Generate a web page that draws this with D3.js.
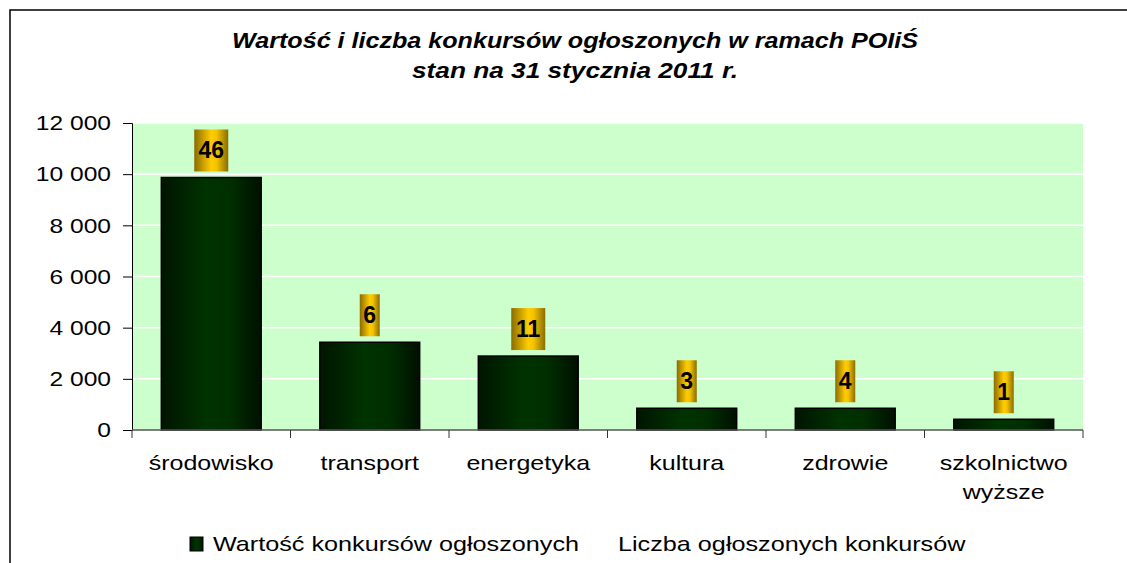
<!DOCTYPE html>
<html>
<head>
<meta charset="utf-8">
<script src="https://cdn.jsdelivr.net/npm/d3@7"></script>
<style>
  html, body { margin: 0; padding: 0; background: #fff; }
  svg { display: block; font-family: "Liberation Sans", Arial, sans-serif; }
</style>
</head>
<body>
<div id="chart"></div>
<script>
const categories = ["środowisko", "transport", "energetyka", "kultura", "zdrowie", "szkolnictwo\nwyższe"];
const values = [9870, 3430, 2890, 850, 850, 420];
const counts = [46, 6, 11, 3, 4, 1];
const yTicks = [0, 2000, 4000, 6000, 8000, 10000, 12000];
const titleLines = ["Wartość i liczba konkursów ogłoszonych w ramach POIiŚ", "stan na 31 stycznia 2011 r."];
const legendLabels = ["Wartość konkursów ogłoszonych", "Liczba ogłoszonych konkursów"];

const W = 1127, H = 563;
const margin = { top: 123, right: 44, bottom: 133, left: 132 };
const STRETCH = 1.19; // reference text looks a bit wide

const svg = d3.select("#chart").append("svg").attr("width", W).attr("height", H);

// gradients
const defs = svg.append("defs");
const barGrad = defs.append("linearGradient").attr("id", "barGrad");
barGrad.append("stop").attr("offset", "0%").attr("stop-color", "#001500");
barGrad.append("stop").attr("offset", "45%").attr("stop-color", "#003300");
barGrad.append("stop").attr("offset", "70%").attr("stop-color", "#002e00");
barGrad.append("stop").attr("offset", "100%").attr("stop-color", "#001000");
const goldGrad = defs.append("linearGradient").attr("id", "goldGrad");
goldGrad.append("stop").attr("offset", "0%").attr("stop-color", "#8a6c00");
goldGrad.append("stop").attr("offset", "50%").attr("stop-color", "#ffcc00");
goldGrad.append("stop").attr("offset", "65%").attr("stop-color", "#f5c400");
goldGrad.append("stop").attr("offset", "100%").attr("stop-color", "#8a6c00");

// frame
svg.append("path").attr("d", `M10,${H} V10 H${W}`)
  .attr("fill", "none").attr("stroke", "#000").attr("stroke-width", 1.5);

function widen(sel, k) {
  sel.each(function() {
    const len = this.getComputedTextLength();
    d3.select(this).attr("textLength", len * k).attr("lengthAdjust", "spacingAndGlyphs");
  });
}

// title
svg.selectAll(".title").data(titleLines).enter().append("text")
  .attr("class", "title")
  .attr("x", 575).attr("y", (d, i) => 48 + i * 30)
  .attr("text-anchor", "middle")
  .attr("font-size", 22).attr("font-weight", "bold").attr("font-style", "italic")
  .attr("textLength", (d, i) => i === 0 ? 686 : 326)
  .attr("lengthAdjust", "spacingAndGlyphs")
  .text(d => d);

const width = W - margin.left - margin.right;
const height = H - margin.top - margin.bottom;

const x = d3.scaleBand().domain(categories).range([0, width]).paddingInner(0.37).paddingOuter(0.185);
const xTickScale = d3.scaleLinear().domain([0, categories.length]).range([0, width]);
const y = d3.scaleLinear().domain([0, 12000]).range([height, 0]);

const g = svg.append("g").attr("transform", `translate(${margin.left},${margin.top})`);

g.append("rect").attr("width", width).attr("height", height).attr("fill", "#ccffcc");

g.selectAll(".grid").data(yTicks.slice(1)).enter().append("line")
  .attr("x1", 0).attr("x2", width)
  .attr("y1", d => y(d)).attr("y2", d => y(d))
  .attr("stroke", "#fff").attr("stroke-width", 1.5);

// y axis
const yAxis = g.append("g")
  .call(d3.axisLeft(y).tickValues(yTicks).tickSize(9).tickPadding(12)
    .tickFormat(d => d3.format(",")(d).replace(/,/g, " ")));
yAxis.select(".domain").attr("stroke", "#000");
yAxis.selectAll(".tick line").attr("stroke", "#000");
yAxis.selectAll("text").attr("font-size", 21).attr("fill", "#000")
  .attr("font-family", "Liberation Sans, Arial, sans-serif");
widen(yAxis.selectAll("text"), 1.17);

// bars
g.selectAll(".bar").data(values).enter().append("rect")
  .attr("class", "bar")
  .attr("x", (d, i) => x(categories[i]))
  .attr("y", d => y(d))
  .attr("width", x.bandwidth())
  .attr("height", d => height - y(d))
  .attr("fill", "url(#barGrad)")
  .attr("stroke", "#000").attr("stroke-width", 1.5);

// x axis
g.append("line").attr("x1", 0).attr("x2", width).attr("y1", height).attr("y2", height)
  .attr("stroke", "#555").attr("stroke-width", 1.5);
g.selectAll(".xtick").data(d3.range(categories.length + 1)).enter().append("line")
  .attr("x1", d => xTickScale(d)).attr("x2", d => xTickScale(d))
  .attr("y1", height).attr("y2", height + 8)
  .attr("stroke", "#333");

const xl = g.selectAll(".xlabel").data(categories).enter().append("text")
  .attr("class", "xlabel")
  .attr("text-anchor", "middle")
  .attr("font-size", 21).attr("fill", "#000");
xl.each(function(d) {
  const t = d3.select(this);
  const cx = x(d) + x.bandwidth() / 2;
  d.split("\n").forEach((line, j) => {
    t.append("tspan").attr("x", cx).attr("y", height + 40 + j * 29).text(line);
  });
});
xl.selectAll("tspan").each(function() {
  const len = this.getComputedTextLength();
  d3.select(this).attr("textLength", len * STRETCH).attr("lengthAdjust", "spacingAndGlyphs");
});

// count labels in gold boxes
const lab = g.selectAll(".cnt").data(counts).enter().append("g")
  .attr("transform", (d, i) => `translate(${x(categories[i]) + x.bandwidth() / 2},${y(values[i]) - 6})`);
lab.append("rect")
  .attr("x", d => String(d).length > 1 ? -17 : -10)
  .attr("width", d => String(d).length > 1 ? 34 : 20)
  .attr("y", -42).attr("height", 42)
  .attr("fill", "url(#goldGrad)");
lab.append("text")
  .attr("y", -13).attr("text-anchor", "middle")
  .attr("font-size", 23).attr("font-weight", "bold").attr("fill", "#000")
  .text(d => d);

// legend
const leg = svg.append("g").attr("transform", "translate(190,544)");
leg.append("rect").attr("x", 0).attr("y", -7).attr("width", 13).attr("height", 14)
  .attr("fill", "url(#barGrad)").attr("stroke", "#000");
const lt = leg.selectAll(".lt").data(legendLabels).enter().append("text")
  .attr("x", (d, i) => i === 0 ? 23 : 428).attr("y", 7)
  .attr("font-size", 21).attr("fill", "#000")
  .text(d => d);
widen(lt, 1.2);
</script>
</body>
</html>
